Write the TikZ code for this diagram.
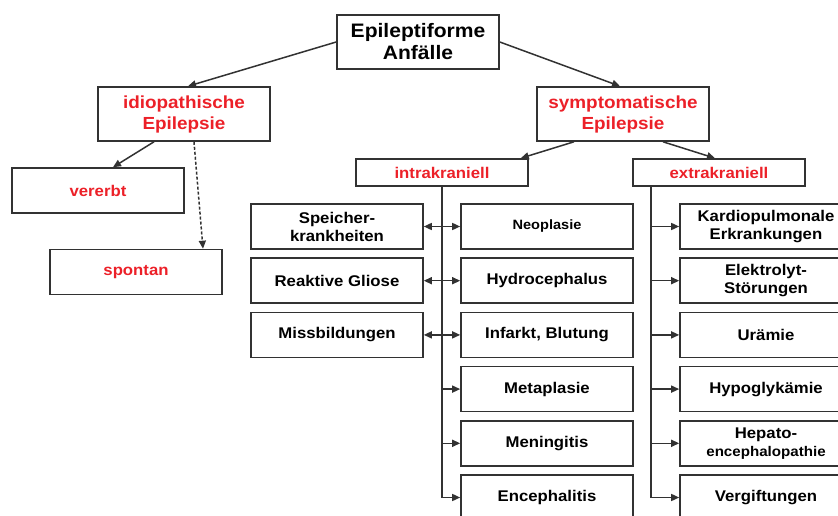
\documentclass[tikz,border=0pt]{standalone}
\usepackage{fontspec}
\setmainfont{Liberation Sans}[FakeStretch=1.08]
\usetikzlibrary{positioning,arrows.meta}

\definecolor{titlered}{RGB}{236,32,40}
\definecolor{framegray}{RGB}{50,50,50}

\tikzset{
    box/.style={draw=framegray, line width=1.6pt, minimum width=172pt, minimum height=45pt, align=center, inner sep=2pt, font=\bfseries\fontsize{15.5}{18}\selectfont},
    rootbox/.style={box, minimum width=162pt, minimum height=54pt, font=\bfseries\fontsize{19.5}{22}\selectfont},
    redbox/.style={box, minimum height=54pt, text=titlered, font=\bfseries\fontsize{17.5}{21}\selectfont},
    headbox/.style={box, minimum height=27pt, text=titlered},
    link/.style={draw=framegray, line width=1.5pt},
}

\begin{document}
\begin{tikzpicture}[>={Triangle[length=8pt,width=7pt]}]
    \useasboundingbox (-418pt,42pt) rectangle (420pt,-474pt);

    \node[rootbox] (root) {Epileptiforme\\Anfälle};

    \node[redbox] (idio) at ([xshift=-234pt, yshift=-72pt]root.center) {idiopathische\\Epilepsie};
    \node[redbox] (symp) at ([xshift=205pt, yshift=-72pt]root.center) {symptomatische\\Epilepsie};

    \node[box, text=titlered] (vererbt) at ([xshift=-86pt, yshift=-76.5pt]idio.center) {vererbt};
    \node[box, text=titlered] (spontan) at ([xshift=-48pt, yshift=-158pt]idio.center) {spontan};

    \node[headbox] (intra) at ([xshift=-181pt, yshift=-58.5pt]symp.center) {intrakraniell};
    \node[headbox] (extra) at ([xshift=96pt, yshift=-58.5pt]symp.center) {extrakraniell};

    % intrakraniell
    \node[box] (neo) at ([xshift=105pt, yshift=-54pt]intra.center) {\fontsize{13.5}{16}\selectfont Neoplasie};
    \node[box, below=7.6pt of neo] (hydro) {Hydrocephalus};
    \node[box, below=7.6pt of hydro] (infarkt) {Infarkt, Blutung};
    \node[box, below=7.6pt of infarkt] (meta) {Metaplasie};
    \node[box, below=7.6pt of meta] (mening) {Meningitis};
    \node[box, below=7.6pt of mening] (enceph) {Encephalitis};

    \node[box, left=36.4pt of neo] (speicher) {Speicher-\\krankheiten};
    \node[box, left=36.4pt of hydro] (gliose) {Reaktive Gliose};
    \node[box, left=36.4pt of infarkt] (missb) {Missbildungen};

    % extrakraniell
    \node[box] (kardio) at ([xshift=47pt, yshift=-54pt]extra.center) {Kardiopulmonale\\Erkrankungen};
    \node[box, below=7.6pt of kardio] (elektro) {Elektrolyt-\\Störungen};
    \node[box, below=7.6pt of elektro] (uraemie) {Urämie};
    \node[box, below=7.6pt of uraemie] (hypo) {Hypoglykämie};
    \node[box, below=7.6pt of hypo] (hepato) {Hepato-\\{\fontsize{14}{16}\selectfont encephalopathie}};
    \node[box, below=7.6pt of hepato] (vergift) {Vergiftungen};

    \coordinate (exbus) at ([xshift=19pt]extra.south west);

    \draw[->, link] (root.west) -- ([xshift=4pt]idio.north);
    \draw[->, link] (root.east) -- ([xshift=-3pt]symp.north);

    \draw[->, link] ([xshift=-30pt]idio.south) -- ([xshift=15pt]vererbt.north);
    \draw[->, link, densely dashed] ([xshift=10pt]idio.south) -- ([xshift=67pt]spontan.north);

    \draw[->, link] ([xshift=-49pt]symp.south) -- ([xshift=-8pt]intra.north east);
    \draw[->, link] ([xshift=40pt]symp.south) -- ([xshift=-4pt]extra.north);

    \draw[->, link] (intra.south) |- (enceph.west);
    \draw[<->, link] (speicher.east) -- (neo.west);
    \draw[<->, link] (gliose.east) -- (hydro.west);
    \draw[<->, link] (missb.east) -- (infarkt.west);
    \draw[->, link] (intra.south |- meta.west) -- (meta.west);
    \draw[->, link] (intra.south |- mening.west) -- (mening.west);

    \draw[->, link] (exbus) |- (vergift.west);
    \draw[->, link] (exbus |- kardio.west) -- (kardio.west);
    \draw[->, link] (exbus |- elektro.west) -- (elektro.west);
    \draw[->, link] (exbus |- uraemie.west) -- (uraemie.west);
    \draw[->, link] (exbus |- hypo.west) -- (hypo.west);
    \draw[->, link] (exbus |- hepato.west) -- (hepato.west);

\end{tikzpicture}
\end{document}
